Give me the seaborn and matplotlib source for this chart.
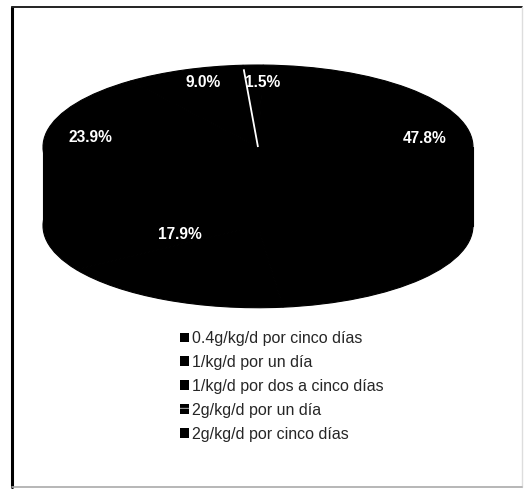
import matplotlib
matplotlib.use("Agg")
import matplotlib.pyplot as plt
import matplotlib.patches as mpatches
from matplotlib.lines import Line2D
import numpy as np
import seaborn as sns

# Dosing schemes and their share of patients (%)
categories = [
    "0.4g/kg/d por cinco días",
    "1/kg/d por un día",
    "1/kg/d por dos a cinco días",
    "2g/kg/d por un día",
    "2g/kg/d por cinco días",
]
# slice order, clockwise from the top
slice_values = [1.5, 47.8, 17.9, 23.9, 9.0]
slice_labels = ["1.5%", "47.8%", "17.9%", "23.9%", "9.0%"]

sns.set_theme(style="white")
plt.rcParams["font.family"] = ["Liberation Sans", "DejaVu Sans"]
plt.rcParams["hatch.linewidth"] = 0.7

fig = plt.figure(figsize=(5.25, 4.91), dpi=100)
ax = fig.add_axes([0, 0, 1, 1])

start = 94
depth = 0.96
black = "#000000"
wprops = dict(linewidth=0.8, edgecolor=black)

# body of the 3-D disc: a lower pie plus the band joining it to the top face
ax.pie(slice_values, startangle=start, counterclock=False, center=(0, -depth),
       colors=[black] * len(slice_values), wedgeprops=wprops)
ax.fill_between([-1, 1], -depth, 0, color=black, linewidth=0.8, edgecolor=black)

# top face of the disc
wedges, _ = ax.pie(slice_values, startangle=start, counterclock=False,
                   colors=[black] * len(slice_values), wedgeprops=wprops)

# white boundary of the first slice
t = np.deg2rad(wedges[0].theta2)
ax.plot([0, 0.95 * np.cos(t)], [0, 0.95 * np.sin(t)], color="white", lw=1.3,
        solid_capstyle="butt")

# percentage labels placed near each slice's mid-angle
label_dist = [0.79, 0.785, 1.13, 0.787, 0.833]
label_shift = [-3.0, 5.4, 6.8, 1.75, -2.3]
for w, lab, r, s in zip(wedges, slice_labels, label_dist, label_shift):
    mid = np.deg2rad((w.theta1 + w.theta2) / 2 + s)
    ax.text(r * np.cos(mid), r * np.sin(mid), lab, color="white",
            fontsize=11.2, fontweight="bold", ha="center", va="center")

ax.set_aspect("auto")
ax.set_xlim(-1.2, 1.242)
ax.set_ylim(-4.195, 1.793)
ax.axis("off")

# legend
handles = []
for i, c in enumerate(categories):
    if i == 3:
        handles.append(mpatches.Patch(facecolor=black, edgecolor="#bbbbbb",
                                      hatch="+", linewidth=0, label=c))
    else:
        handles.append(mpatches.Patch(facecolor=black, linewidth=0, label=c))
fig.legend(handles=handles, loc="upper left",
           bbox_to_anchor=(180 / 525, 1 - 331 / 491),
           frameon=False, fontsize=11.5, borderpad=0, borderaxespad=0,
           handlelength=0.55, handleheight=0.55, handletextpad=0.2,
           labelspacing=0.56)

# outer frame
fig.add_artist(Line2D([12 / 525, 12 / 525], [1 - 7 / 491, 1 - 487 / 491],
                      transform=fig.transFigure, color="black", lw=2.2))
fig.add_artist(Line2D([12 / 525, 522 / 525], [1 - 7 / 491, 1 - 7 / 491],
                      transform=fig.transFigure, color="#222222", lw=1.4))
fig.add_artist(Line2D([522 / 525, 522 / 525], [1 - 7 / 491, 1 - 487 / 491],
                      transform=fig.transFigure, color="#dddddd", lw=1.0))
fig.add_artist(Line2D([12 / 525, 522 / 525], [1 - 487 / 491, 1 - 487 / 491],
                      transform=fig.transFigure, color="#aaaaaa", lw=1.2))

fig.savefig("out.png", dpi=100)
